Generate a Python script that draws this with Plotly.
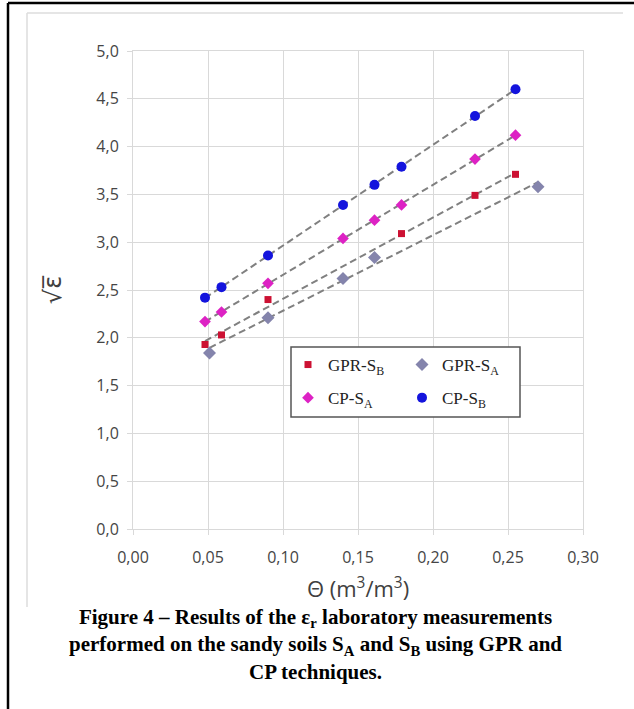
import plotly.graph_objects as go
import numpy as np

# ---- data ----
gpr_sb_theta = [0.048, 0.059, 0.090, 0.179, 0.228, 0.255]
gpr_sb_sqrt_eps = [1.93, 2.03, 2.40, 3.09, 3.49, 3.71]

gpr_sa_theta = [0.051, 0.090, 0.140, 0.161, 0.270]
gpr_sa_sqrt_eps = [1.84, 2.21, 2.62, 2.84, 3.58]

cp_sa_theta = [0.048, 0.059, 0.090, 0.140, 0.161, 0.179, 0.228, 0.255]
cp_sa_sqrt_eps = [2.17, 2.27, 2.57, 3.04, 3.23, 3.39, 3.87, 4.12]

cp_sb_theta = [0.048, 0.059, 0.090, 0.140, 0.161, 0.179, 0.228, 0.255]
cp_sb_sqrt_eps = [2.42, 2.53, 2.86, 3.39, 3.60, 3.79, 4.32, 4.60]

x_ticks = [0.00, 0.05, 0.10, 0.15, 0.20, 0.25, 0.30]
y_ticks = [0.0, 0.5, 1.0, 1.5, 2.0, 2.5, 3.0, 3.5, 4.0, 4.5, 5.0]

series = [
    dict(name="GPR-S<sub>B</sub>", x=gpr_sb_theta, y=gpr_sb_sqrt_eps,
         symbol="square", color="#cc1133", size=7, legend="legend"),
    dict(name="GPR-S<sub>A</sub>", x=gpr_sa_theta, y=gpr_sa_sqrt_eps,
         symbol="diamond", color="#8484ac", size=10, legend="legend2"),
    dict(name="CP-S<sub>A</sub>", x=cp_sa_theta, y=cp_sa_sqrt_eps,
         symbol="diamond", color="#dd22c4", size=9, legend="legend"),
    dict(name="CP-S<sub>B</sub>", x=cp_sb_theta, y=cp_sb_sqrt_eps,
         symbol="circle", color="#1414dd", size=10, legend="legend2"),
]

fig = go.Figure()

# linear trend lines (fitted from the data)
for s in series:
    xs = np.array(s["x"])
    ys = np.array(s["y"])
    k, b = np.polyfit(xs, ys, 1)
    xe = np.array([xs.min(), xs.max()])
    fig.add_trace(go.Scatter(
        x=xe, y=k * xe + b, mode="lines", showlegend=False, hoverinfo="skip",
        line=dict(color="#808080", width=2, dash="7px,4px"),
    ))

for i, s in enumerate(series):
    fig.add_trace(go.Scatter(
        x=s["x"], y=s["y"], mode="markers", name=s["name"],
        legend=s["legend"], legendgroup=f"g{i}",
        marker=dict(symbol=s["symbol"], color=s["color"], size=s["size"],
                    line=dict(width=0)),
    ))

W, H = 634, 709
L, R, T, B = 133, 51, 51, 180
pw, ph = W - L - R, H - T - B


def px(xp):
    return (xp - L) / pw


def py(yp):
    return (H - B - yp) / ph


legend_font = dict(family="Liberation Serif", size=17, color="#222222")
tick_font = dict(family="Open Sans", size=16, color="#454545")

fig.update_layout(
    width=W, height=H,
    margin=dict(l=L, r=R, t=T, b=B),
    paper_bgcolor="white", plot_bgcolor="white",
    separators=",.",
    showlegend=True,
    xaxis=dict(
        range=[0, 0.30], tickvals=x_ticks, tickformat=".2f",
        showgrid=True, gridcolor="#d9d9d9", gridwidth=1,
        showline=True, linecolor="#d9d9d9", linewidth=1, mirror=True,
        zeroline=False, ticks="outside", ticklen=5, tickcolor="#d9d9d9",
        ticklabelstandoff=9,
        tickfont=tick_font,
        title=dict(text="Θ (m<sup>3</sup>/m<sup>3</sup>)", standoff=14,
                   font=dict(family="Open Sans", size=22, color="#404040")),
    ),
    yaxis=dict(
        range=[0, 5.0], tickvals=y_ticks, tickformat=".1f",
        showgrid=True, gridcolor="#d9d9d9", gridwidth=1,
        showline=True, linecolor="#d9d9d9", linewidth=1, mirror=True,
        zeroline=False, ticks="outside", ticklen=5, tickcolor="#d9d9d9",
        ticklabelstandoff=5,
        tickfont=tick_font,
        title=dict(text="√ε̅", standoff=27,
                   font=dict(family="DejaVu Sans", size=24, color="#404040")),
    ),
    legend=dict(
        x=px(288), y=py(347), xanchor="left", yanchor="top",
        bgcolor="rgba(0,0,0,0)", borderwidth=0,
        font=legend_font, traceorder="grouped", tracegroupgap=8,
        itemwidth=30,
    ),
    legend2=dict(
        x=px(402), y=py(347), xanchor="left", yanchor="top",
        bgcolor="rgba(0,0,0,0)", borderwidth=0,
        font=legend_font, traceorder="grouped", tracegroupgap=8,
        itemwidth=30,
    ),
    shapes=[
        # legend frame
        dict(type="rect", xref="paper", yref="paper",
             x0=px(291), x1=px(520), y0=py(417), y1=py(347),
             line=dict(color="#555555", width=1.5), fillcolor="white",
             layer="above"),
        # outer black frame (left + top)
        dict(type="line", xref="paper", yref="paper",
             x0=px(8), x1=px(8), y0=py(712), y1=py(3),
             line=dict(color="black", width=2.5)),
        dict(type="line", xref="paper", yref="paper",
             x0=px(8), x1=px(640), y0=py(3), y1=py(3),
             line=dict(color="black", width=2.5)),
        # light chart-area frame (left + top)
        dict(type="line", xref="paper", yref="paper",
             x0=px(27), x1=px(27), y0=py(607), y1=py(13),
             line=dict(color="#dddddd", width=1.5)),
        dict(type="line", xref="paper", yref="paper",
             x0=px(27), x1=px(623), y0=py(13), y1=py(13),
             line=dict(color="#dddddd", width=1.5)),
    ],
    annotations=[
        dict(xref="paper", yref="paper", x=px(315), y=py(644),
             xanchor="center", yanchor="middle", showarrow=False,
             align="center",
             text=("<b>Figure 4 – Results of the ε<sub>r</sub> laboratory measurements<br>"
                   "performed on the sandy soils S<sub>A</sub> and S<sub>B</sub> using GPR and<br>"
                   "CP techniques.</b>"),
             font=dict(family="Liberation Serif", size=21, color="black")),
    ],
)

fig.write_html(
    "out.html",
    config={"displayModeBar": False},
    post_script="document.body.style.margin='0';document.body.style.overflow='hidden';",
)
